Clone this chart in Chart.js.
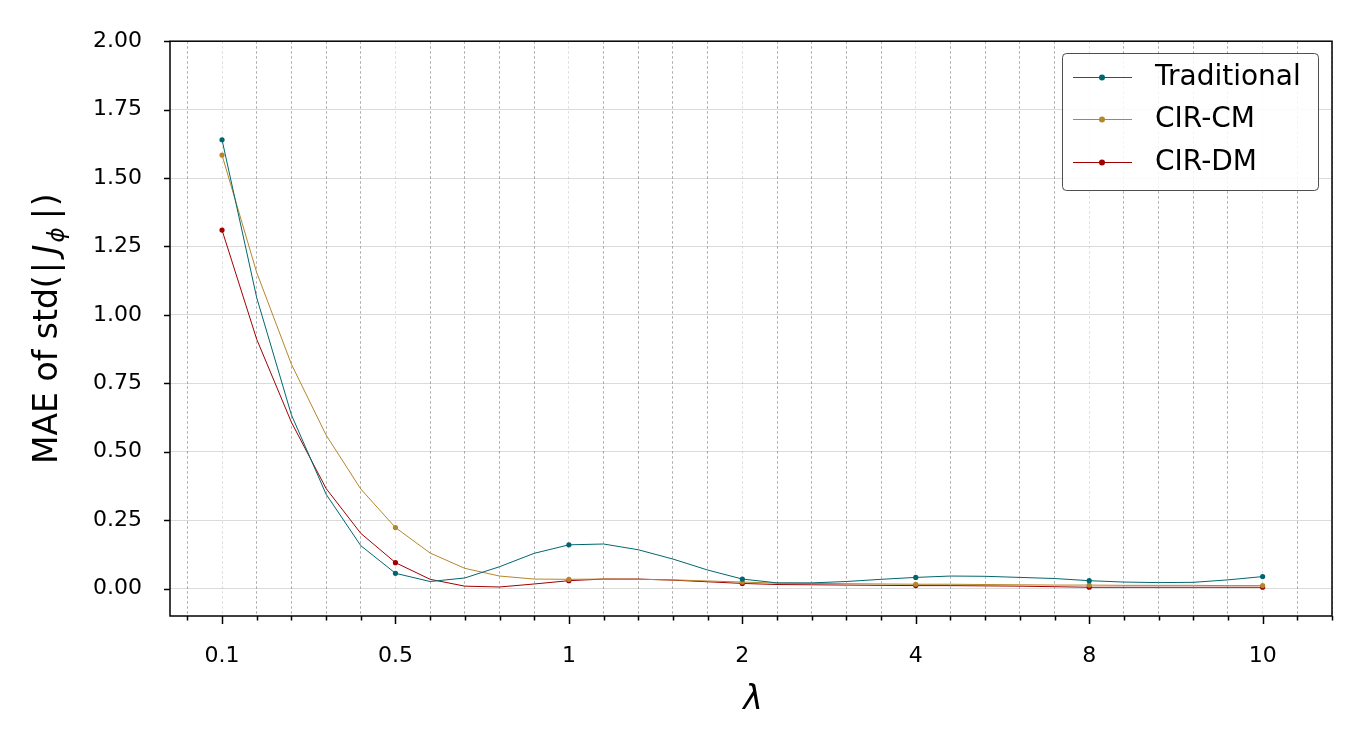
<!DOCTYPE html>
<html>
<head>
<meta charset="utf-8">
<script src="https://cdn.jsdelivr.net/npm/chart.js@4.4.0/dist/chart.umd.min.js"></script>
<style>
html, body { margin: 0; padding: 0; background: #fff; }
#wrap { width: 1362px; height: 747px; position: relative; }
</style>
</head>
<body>
<div id="wrap"><canvas id="chart" width="1362" height="747"></canvas></div>
<script>
// lambda values shown on the x axis, 5 samples per interval
const lambdaLabels = ["0.1", "0.5", "1", "2", "4", "8", "10"];
const stepsPerLabel = 5;

const traditional = [1.640, 1.063, 0.635, 0.345, 0.157, 0.056, 0.026, 0.039, 0.080, 0.129, 0.160,
                     0.163, 0.142, 0.108, 0.068, 0.035, 0.021, 0.021, 0.026, 0.034, 0.041,
                     0.046, 0.045, 0.041, 0.037, 0.029, 0.024, 0.022, 0.023, 0.032, 0.044];
const cirCM = [1.584, 1.155, 0.820, 0.561, 0.364, 0.223, 0.130, 0.074, 0.046, 0.035, 0.034,
               0.035, 0.034, 0.032, 0.028, 0.024, 0.020, 0.019, 0.018, 0.017, 0.016,
               0.016, 0.015, 0.014, 0.013, 0.013, 0.012, 0.012, 0.012, 0.011, 0.011];
const cirDM = [1.310, 0.911, 0.608, 0.366, 0.202, 0.095, 0.034, 0.009, 0.006, 0.017, 0.029,
               0.035, 0.035, 0.031, 0.025, 0.019, 0.015, 0.014, 0.013, 0.012, 0.011,
               0.011, 0.010, 0.009, 0.007, 0.005, 0.005, 0.005, 0.005, 0.005, 0.005];
const yTicks = [0, 0.25, 0.5, 0.75, 1.0, 1.25, 1.5, 1.75, 2.0];

const seriesNames = ["Traditional", "CIR-CM", "CIR-DM"];
const seriesColors = ["#00666e", "#b5862a", "#a00000"];

function toPoints(values) {
    return values.map((v, i) => ({ x: i / stepsPerLabel, y: v }));
}

function isMajor(v) {
    return Math.abs(v - Math.round(v)) < 1e-6 && v > -0.01 && v < lambdaLabels.length - 0.99;
}

const datasets = [traditional, cirCM, cirDM].map((vals, k) => ({
    label: seriesNames[k],
    data: toPoints(vals),
    borderColor: seriesColors[k],
    backgroundColor: seriesColors[k],
    borderWidth: 1,
    tension: 0,
    pointRadius: ctx => (ctx.dataIndex % stepsPerLabel === 0 ? 2.6 : 0),
    pointHoverRadius: 0,
    pointBorderWidth: 0
}));

const DEJAVU = "'DejaVu Sans', sans-serif";

const decorations = {
    id: "decorations",
    afterDraw(chart) {
        const { ctx, chartArea: a, scales: { x, y } } = chart;
        ctx.save();
        // frame
        ctx.strokeStyle = "#000";
        ctx.lineWidth = 1.5;
        ctx.strokeRect(a.left, a.top, a.right - a.left, a.bottom - a.top);
        // x ticks
        x.ticks.forEach(t => {
            const px = Math.round(x.getPixelForValue(t.value)) + 0.5;
            const len = isMajor(t.value) ? 8 : 4.5;
            ctx.beginPath();
            ctx.moveTo(px, a.bottom);
            ctx.lineTo(px, a.bottom + len);
            ctx.stroke();
        });
        // y ticks
        y.ticks.forEach(t => {
            const py = Math.round(y.getPixelForValue(t.value)) + 0.5;
            ctx.beginPath();
            ctx.moveTo(a.left - 6, py);
            ctx.lineTo(a.left, py);
            ctx.stroke();
        });

        // x title
        ctx.fillStyle = "#000";
        ctx.font = "italic 33px " + DEJAVU;
        ctx.textAlign = "center";
        ctx.textBaseline = "middle";
        ctx.fillText("λ", (a.left + a.right) / 2 + 2, 700);

        // y title with subscript
        const parts = [
            { t: "MAE of std(", f: "33px " + DEJAVU, dy: 0, gap: 2 },
            { t: "|", f: "33px " + DEJAVU, dy: 0, gap: 8 },
            { t: "J", f: "italic 33px " + DEJAVU, dy: 0, gap: 2 },
            { t: "ϕ", f: "italic 23px " + DEJAVU, dy: 7, gap: 8 },
            { t: "|", f: "33px " + DEJAVU, dy: 0, gap: 2 },
            { t: ")", f: "33px " + DEJAVU, dy: 0, gap: 0 }
        ];
        let total = 0;
        parts.forEach(p => { ctx.font = p.f; p.w = ctx.measureText(p.t).width; total += p.w + p.gap; });
        ctx.save();
        ctx.translate(46, (a.top + a.bottom) / 2);
        ctx.rotate(-Math.PI / 2);
        ctx.textAlign = "left";
        ctx.textBaseline = "alphabetic";
        let cx = -total / 2;
        parts.forEach(p => {
            ctx.font = p.f;
            ctx.fillText(p.t, cx, 11 + p.dy);
            cx += p.w + p.gap;
        });
        ctx.restore();

        // legend
        const lx = 1062, ly = 53, lw = 256, lh = 137;
        ctx.beginPath();
        ctx.roundRect(lx + 0.5, ly + 0.5, lw, lh, 4);
        ctx.fillStyle = "rgba(255,255,255,0.85)";
        ctx.fill();
        ctx.strokeStyle = "#222";
        ctx.lineWidth = 0.8;
        ctx.stroke();
        const rows = [77, 119, 162];
        ctx.font = "28px " + DEJAVU;
        ctx.textAlign = "left";
        ctx.textBaseline = "middle";
        seriesNames.forEach((name, k) => {
            const ry = rows[k];
            ctx.strokeStyle = seriesColors[k];
            ctx.lineWidth = 1;
            ctx.beginPath();
            ctx.moveTo(1073, ry + 0.5);
            ctx.lineTo(1132, ry + 0.5);
            ctx.stroke();
            ctx.fillStyle = seriesColors[k];
            ctx.beginPath();
            ctx.arc(1102, ry + 0.5, 3, 0, Math.PI * 2);
            ctx.fill();
            ctx.fillStyle = "#000";
            ctx.fillText(name, 1155, ry + 1);
        });
        ctx.restore();
    }
};

new Chart(document.getElementById("chart"), {
    type: "line",
    data: { datasets },
    options: {
        responsive: false,
        animation: false,
        devicePixelRatio: 1,
        layout: { padding: { top: 40, right: 30, left: 0, bottom: 0 } },
        plugins: { legend: { display: false }, tooltip: { enabled: false } },
        scales: {
            x: {
                type: "linear",
                min: -0.3,
                max: lambdaLabels.length - 1 + 0.4,
                afterBuildTicks: scale => {
                    const t = [];
                    for (let k = -1; k <= (lambdaLabels.length - 1) * stepsPerLabel + 2; k++) {
                        t.push({ value: k / stepsPerLabel });
                    }
                    scale.ticks = t;
                },
                afterFit: scale => { scale.height = 131; },
                ticks: {
                    autoSkip: false,
                    maxRotation: 0,
                    padding: 27,
                    color: "#000",
                    font: { family: DEJAVU, size: 22 },
                    callback: v => (isMajor(v) ? lambdaLabels[Math.round(v)] : "")
                },
                grid: {
                    drawTicks: false,
                    lineWidth: 1,
                    color: ctx => (ctx.tick && isMajor(ctx.tick.value) ? "rgba(0,0,0,0.13)" : "rgba(0,0,0,0.32)")
                },
                border: { display: false, dash: [2.5, 2.5] }
            },
            y: {
                min: -0.1,
                max: 2.0,
                afterBuildTicks: scale => { scale.ticks = yTicks.map(v => ({ value: v })); },
                afterFit: scale => { scale.width = 170; },
                ticks: {
                    padding: 28,
                    color: "#000",
                    font: { family: DEJAVU, size: 22 },
                    callback: v => v.toFixed(2)
                },
                grid: {
                    drawTicks: false,
                    lineWidth: 1,
                    color: "rgba(0,0,0,0.14)"
                },
                border: { display: false }
            }
        }
    },
    plugins: [decorations]
});
</script>
</body>
</html>
